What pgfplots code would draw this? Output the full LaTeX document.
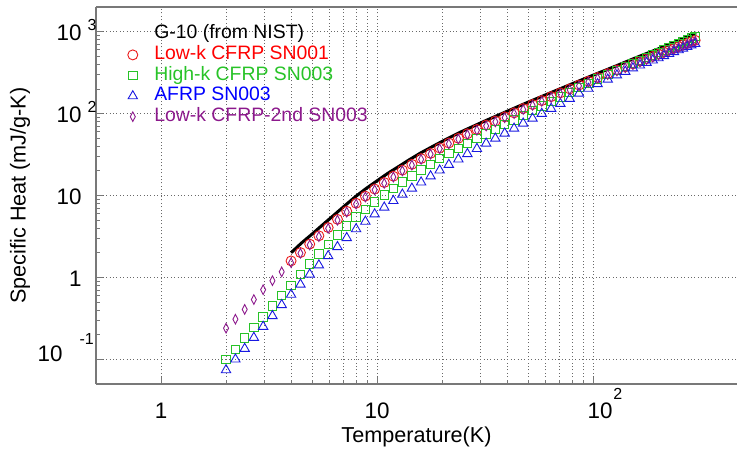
\documentclass[border=0pt]{standalone}
\usepackage{fontspec}
\setmainfont{Liberation Sans}
\usepackage{pgfplots}
\pgfplotsset{compat=1.18}
\usepackage{pgfplotstable}

\definecolor{cred}{RGB}{235,25,25}
\definecolor{cgreen}{RGB}{40,195,40}
\definecolor{cblue}{RGB}{25,25,225}
\definecolor{cpurp}{RGB}{140,25,140}
\definecolor{gridc}{RGB}{105,105,105}
\definecolor{axisc}{RGB}{120,120,120}

\pgfplotstableread{
T red green blue purple
2.00 nan 0.100 0.0741 0.240
2.21 nan 0.132 0.100 0.309
2.44 nan 0.182 0.135 0.407
2.69 nan 0.245 0.184 0.537
2.97 nan 0.331 0.251 0.708
3.28 nan 0.447 0.339 0.912
3.62 nan 0.603 0.462 1.17
4.00 1.59 0.796 0.618 1.51
4.42 2.01 1.08 0.821 1.97
4.88 2.55 1.46 1.09 2.49
5.38 3.22 1.93 1.41 3.15
5.94 4.06 2.53 1.83 3.97
6.56 5.12 3.30 2.36 5.00
7.24 6.43 4.25 3.04 6.28
8.00 8.05 5.46 3.90 7.87
8.83 9.82 6.75 4.81 9.59
9.75 12.0 8.36 5.92 11.7
10.8 14.4 10.1 7.16 14.1
11.9 17.2 12.2 8.61 16.8
13.1 20.4 14.6 10.3 20.0
14.5 24.0 17.3 12.2 23.5
16.0 28.2 20.5 14.5 27.6
17.7 32.7 24.0 17.2 32.0
19.5 38.0 28.1 20.3 37.2
21.5 43.7 32.6 23.8 42.7
23.8 49.9 37.6 27.7 48.8
26.2 56.6 43.3 32.2 55.3
29.0 64.0 49.3 37.2 62.5
32.0 72.3 56.5 43.2 70.6
35.3 81.1 64.1 49.7 79.3
39.0 91.2 73.1 57.3 89.1
43.1 102 83.4 65.8 100
47.5 115 95.3 75.9 112
52.5 129 109 87.1 126
57.9 144 124 99.8 141
64.0 161 141 115 157
70.6 179 160 132 175
78.0 200 182 152 195
86.1 223 207 176 218
95.1 248 234 202 242
105 275 264 230 269
117 307 300 261 300
129 340 337 294 332
141 372 373 325 363
153 405 411 358 395
165 436 448 388 426
177 468 485 418 457
189 499 522 447 488
201 531 561 476 519
213 562 598 506 550
225 596 638 537 582
237 627 678 566 612
249 659 716 596 644
261 690 757 625 675
273 721 794 655 705
285 753 838 685 736
297 785 877 714 767
}\markers

\pgfplotstableread{
T cp
4.00 2.00
4.47 2.63
5.01 3.39
5.62 4.42
6.31 5.75
7.08 7.48
7.94 9.66
8.91 12.2
10.0 15.1
11.2 18.6
12.6 22.6
14.1 27.3
15.8 32.7
17.8 38.8
20.0 45.7
22.4 53.3
25.1 61.7
28.2 70.9
31.6 81.3
39.8 106
50.1 138
63.1 178
79.4 229
100 294
126 376
158 481
200 615
251 787
300 966
}\gten

\pgfplotsset{
  mylegimg/.style={legend image code/.code={%
    \path[draw=none, fill=none] (-3pt,-1pt) rectangle (3pt,1pt);
    \draw[##1] plot[only marks] coordinates {(0pt,0pt)};}},
}

\begin{document}
\begin{tikzpicture}
\begin{axis}[
  name=ax,
  scale only axis,
  width=320.5pt, height=188.5pt,
  xmode=log, ymode=log,
  xmin=0.5, xmax=464, ymin=0.05, ymax=2000,
  axis x line*=box, axis y line*=left,
  axis line style={axisc, line width=0.6pt},
  xtick pos=left, ytick pos=left,
  tick align=inside,
  major tick length=3.5pt, minor tick length=2.2pt,
  every tick/.style={axisc, line width=0.4pt},
  xmajorgrids, xminorgrids, ymajorgrids,
  major grid style={gridc, line width=0.4pt, dash pattern=on 0.5pt off 1.2pt},
  minor grid style={gridc, line width=0.4pt, dash pattern=on 0.5pt off 1.2pt},
  xtick={1,10,100},
  xticklabels={1,10,{\hspace*{7pt}10\rlap{\hspace{0.5pt}\raisebox{9.5pt}{\fontsize{8}{8}\selectfont 2}}}},
  ytick={0.1,1,10,100,1000},
  yticklabels={
    {\llap{\raisebox{3.5pt}{10}\hspace{9pt}}\rlap{\hspace{-0.5pt}\raisebox{12pt}{\fontsize{8}{8}\selectfont -1}}},
    {1},
    {10},
    {10\rlap{\hspace{3pt}\raisebox{5pt}{\fontsize{8}{8}\selectfont 2}}},
    {10\rlap{\hspace{3pt}\raisebox{5pt}{\fontsize{8}{8}\selectfont 3}}}},
  ticklabel style={font=\fontsize{11.2}{12}\selectfont, inner sep=0pt},
  xticklabel style={anchor=base, yshift=-17pt},
  yticklabel style={anchor=base east, xshift=-7pt, yshift=-4.5pt},
  xlabel={Temperature(K)},
  ylabel={Specific Heat (mJ/g-K)},
  label style={font=\fontsize{10.8}{12}\selectfont},
  xlabel style={at={(axis description cs:0.5,0)}, anchor=base, yshift=-29pt},
  ylabel style={at={(axis description cs:-0.1186,0.5)}, anchor=center},
  legend style={draw=none, fill=none, at={(axis description cs:0,1)}, anchor=north west,
    xshift=12.2pt, yshift=-6.3pt,
    font=\fontsize{9.7}{10}\selectfont,
    nodes={inner sep=0.25pt, text height=7.2pt, text depth=2.6pt},
    /tikz/every odd column/.append style={column sep=7.5pt},
    legend cell align=left},
  clip=false,
]
\addlegendimage{empty legend}
\addlegendentry{G-10 (from NIST)}
\addplot[only marks, mark=o, mark size=2.5pt, cred, mark options={line width=0.45pt}, mylegimg]
  table[x=T, y=red] {\markers};
\addlegendentry{\textcolor{red}{Low-k CFRP SN001}}
\addplot[only marks, mark=square, mark size=2.1pt, cgreen, mark options={line width=0.45pt}, mylegimg]
  table[x=T, y=green] {\markers};
\addlegendentry{\textcolor{cgreen}{High-k CFRP SN003}}
\addplot[only marks, mark=triangle, mark size=2.7pt, cblue, mark options={line width=0.45pt}, mylegimg]
  table[x=T, y=blue] {\markers};
\addlegendentry{\textcolor{blue}{AFRP SN003}}
\addplot[only marks, mark=diamond, mark size=2.4pt, cpurp, mark options={line width=0.45pt, xscale=0.7}, mylegimg]
  table[x=T, y=purple] {\markers};
\addlegendentry{\textcolor{cpurp}{Low-k CFRP-2nd SN003}}
\addplot[black, line width=1.5pt, forget plot] table[x=T, y=cp] {\gten};
\end{axis}
\pgfresetboundingbox
\path ([xshift=-48pt, yshift=-35.5pt]ax.south west) rectangle ([yshift=3.5pt]ax.north east);
\end{tikzpicture}
\end{document}
